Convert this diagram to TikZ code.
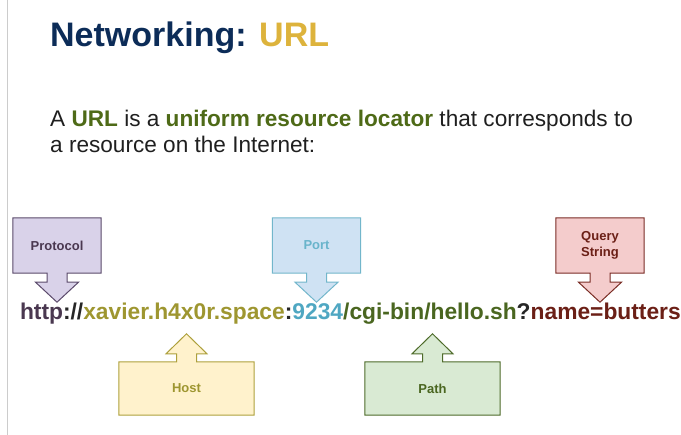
\documentclass[tikz,border=0pt]{standalone}
\usepackage{fontspec}
\setmainfont{Liberation Sans}
\usetikzlibrary{positioning,backgrounds}

\definecolor{titleblue}{HTML}{0C2C58}
\definecolor{titlegold}{HTML}{DDB33C}
\definecolor{termgreen}{HTML}{4E6A17}
\definecolor{protofill}{HTML}{D9D2E9}
\definecolor{protoline}{HTML}{5B4A6B}
\definecolor{prototext}{HTML}{4A3850}
\definecolor{hostfill}{HTML}{FFF2CC}
\definecolor{hostline}{HTML}{ADA03C}
\definecolor{hosttext}{HTML}{9E9630}
\definecolor{portfill}{HTML}{CFE2F3}
\definecolor{portline}{HTML}{72B6CB}
\definecolor{porttext}{HTML}{4FA7C2}
\definecolor{pathfill}{HTML}{D9EAD3}
\definecolor{pathline}{HTML}{4E6B2A}
\definecolor{pathtext}{HTML}{4A6620}
\definecolor{queryfill}{HTML}{F4CCCC}
\definecolor{queryline}{HTML}{7A2D25}
\definecolor{querytext}{HTML}{6B1F16}

\tikzset{
  urlpart/.style={inner sep=0pt, outer sep=0pt, font=\fontsize{22.8}{22.8}\selectfont\bfseries},
  introline/.style={anchor=base west, inner sep=0pt, text=black!88, font=\fontsize{22.6}{26}\selectfont},
  boxlabel/.style={font=\fontsize{13}{16}\selectfont\bfseries, align=center,
    minimum width=88, minimum height=55, inner sep=0pt},
  widebox/.style={boxlabel, minimum width=135, minimum height=53},
}
% outline of a box with an arrow below or above it
\newcommand{\downcallout}[2]{%
  \path[#2] (#1.north west) -- (#1.north east) -- (#1.south east)
    -- ([xshift=10pt]#1.south) -- ++(0,9) -- ++(11.5,0) -- ++(-21.5,20)
    -- ++(-21.5,-20) -- ++(11.5,0) -- ++(0,-9) -- (#1.south west) -- cycle;}
\newcommand{\upcallout}[2]{%
  \path[#2] (#1.south west) -- (#1.south east) -- (#1.north east)
    -- ([xshift=10pt]#1.north) -- ++(0,-8) -- ++(10.5,0) -- ++(-20.5,-20)
    -- ++(-20.5,20) -- ++(10.5,0) -- ++(0,8) -- (#1.north west) -- cycle;}

\begin{document}
\begin{tikzpicture}[x=1pt, y=-1pt]
    \useasboundingbox (0,0) rectangle (681,435);
    \draw[line width=1.3pt, black!20] (7.5,0) -- (7.5,435);

    % heading and text
    \node[anchor=base west, inner sep=0pt, font=\fontsize{34}{34}\selectfont\bfseries] (title) at (50,47)
        {\textcolor{titleblue}{Networking:} \textcolor{titlegold}{URL}};
    \node[introline] (intro) at (50,127)
        {A \textcolor{termgreen}{\bfseries URL} is a \textcolor{termgreen}{\bfseries uniform resource locator} that corresponds to};
    \node[introline] (introtail) at (50,153) {a resource on the Internet:};

    % the url, one node per part
    \node[urlpart, anchor=base west, text=prototext] (proto) at (20,320) {http};
    \node[urlpart, base right=0pt of proto, text=black!85] (slashes) {://};
    \node[urlpart, base right=0pt of slashes, text=hosttext] (host) {xavier.h4x0r.space};
    \node[urlpart, base right=0pt of host, text=black!85] (colon) {:};
    \node[urlpart, base right=0pt of colon, text=porttext] (port) {9234};
    \node[urlpart, base right=0pt of port, text=pathtext] (path) {/cgi-bin/hello.sh};
    \node[urlpart, base right=0pt of path, text=black!85] (qmark) {?};
    \node[urlpart, base right=0pt of qmark, text=querytext] (query) {name=butters};

    % callout boxes
    \node[boxlabel, text=prototext] (protobox) at (57,245.5) {Protocol};
    \node[boxlabel, text=porttext!85] (portbox) at (316.5,245.5) {Port};
    \node[boxlabel, text=querytext] (querybox) at (600,245.5) {Query\\String};
    \node[widebox, text=hosttext] (hostbox) at (186.5,388.5) {Host};
    \node[widebox, text=pathtext] (pathbox) at (432.5,388.5) {Path};

    \begin{pgfonlayer}{background}
        \downcallout{protobox}{fill=protofill, draw=protoline, line width=1pt}
        \downcallout{portbox}{fill=portfill, draw=portline, line width=1pt}
        \downcallout{querybox}{fill=queryfill, draw=queryline, line width=1pt}
        \upcallout{hostbox}{fill=hostfill, draw=hostline, line width=1pt}
        \upcallout{pathbox}{fill=pathfill, draw=pathline, line width=1pt}
    \end{pgfonlayer}
\end{tikzpicture}
\end{document}
